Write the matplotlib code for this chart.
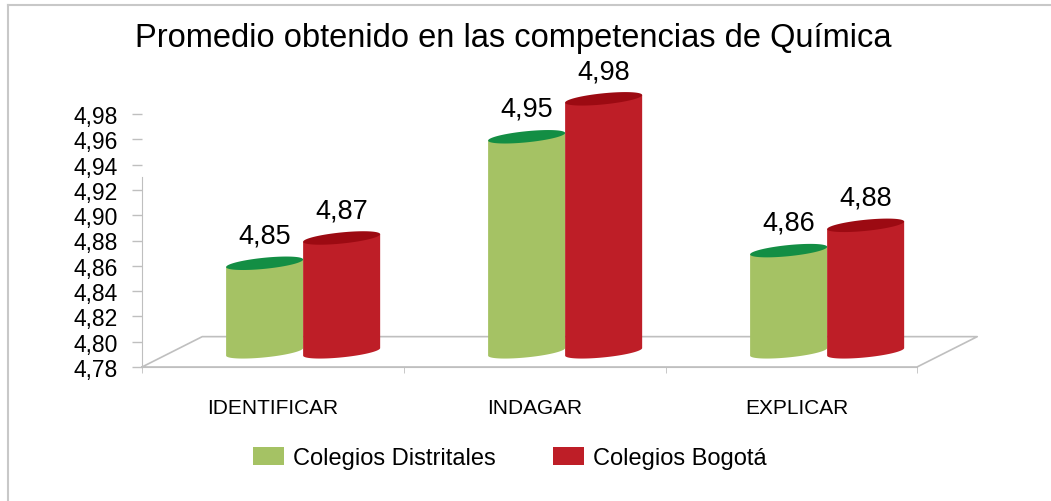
import numpy as np
import matplotlib
matplotlib.use("Agg")
import matplotlib.pyplot as plt
from matplotlib.patches import Polygon, Patch
from matplotlib.lines import Line2D

# data
categories = ["IDENTIFICAR", "INDAGAR", "EXPLICAR"]
series_names = ["Colegios Distritales", "Colegios Bogotá"]
distritales = [4.85, 4.95, 4.86]
bogota = [4.87, 4.98, 4.88]
y_ticks = [4.78, 4.80, 4.82, 4.84, 4.86, 4.88, 4.90, 4.92, 4.94, 4.96, 4.98]

# colours: body, top
green = "#A5C264"
green_top = "#138E44"
red = "#BE1E27"
red_top = "#9C0A12"
grid_gray = "#BFBFBF"

# fake 3d depth (data units) and cylinder shape
base = 4.78
depth_x = 0.115
depth_y = 0.012
bar_w = 0.294
ell_h = 0.0044   # half height of the ellipse
ell_s = 0.0030   # shear, right side higher
wall_top = 4.93
floor_end = 2.458

plt.rcParams['font.family'] = ['Liberation Sans', 'DejaVu Sans']

fig = plt.figure(figsize=(10.51, 5.02), dpi=100)
ax = fig.add_axes([0, 0, 1, 1])
ax.set_xlim(-273 / 262, 778 / 262)
ax.set_ylim(4.78 - 134 / 1265, 4.78 + 368 / 1265)
ax.patch.set_alpha(0)


def cylinder(ax, xc, bottom, top, body, cap, z):
    a = bar_w / 2
    t = np.linspace(np.pi, 2 * np.pi, 60)
    low_x = xc + a * np.cos(t)
    low_y = bottom + ell_h * np.sin(t) + ell_s * np.cos(t)
    xs = np.concatenate([[xc - a], low_x, [xc + a]])
    ys = np.concatenate([[top - ell_s], low_y, [top + ell_s]])
    ax.add_patch(Polygon(np.column_stack([xs, ys]), closed=True,
                         facecolor=body, edgecolor="none", zorder=z))
    t2 = np.linspace(0, 2 * np.pi, 100)
    tx = xc + a * np.cos(t2)
    ty = top + ell_h * np.sin(t2) + ell_s * np.cos(t2)
    ax.add_patch(Polygon(np.column_stack([tx, ty]), closed=True,
                         facecolor=cap, edgecolor="none", zorder=z + 0.5))


# floor of the 3d plot
fx = [-0.5, floor_end, floor_end + 2 * depth_x, -0.5 + 2 * depth_x, -0.5]
fy = [base, base, base + 2 * depth_y, base + 2 * depth_y, base]
ax.plot(fx, fy, color=grid_gray, lw=1.2, zorder=1)

for i in range(len(categories)):
    gc = i + depth_x
    cylinder(ax, gc - bar_w / 2, base + depth_y, distritales[i] + depth_y, green, green_top, 3 + i)
    cylinder(ax, gc + bar_w / 2, base + depth_y, bogota[i] + depth_y, red, red_top, 3.1 + i)
    for xc, v in [(gc - bar_w / 2, distritales[i]), (gc + bar_w / 2, bogota[i])]:
        ax.annotate(f"{v:.2f}".replace(".", ","), (xc, v + depth_y),
                    xytext=(0, 20), textcoords="offset points",
                    ha="center", va="center", fontsize=19.5, zorder=10)

# axes: y axis on the front left corner
for s in ["top", "right"]:
    ax.spines[s].set_visible(False)
ax.spines["left"].set_position(("data", -0.5))
ax.spines["left"].set_bounds(base, wall_top)
ax.spines["left"].set_color(grid_gray)
ax.spines["bottom"].set_position(("data", base))
ax.spines["bottom"].set_bounds(-0.5, floor_end)
ax.spines["bottom"].set_color(grid_gray)
ax.set_yticks(y_ticks)
ax.set_yticklabels([f"{v:.2f}".replace(".", ",") for v in y_ticks])
ax.tick_params(axis="y", direction="out", length=7.2, width=1,
               color=grid_gray, pad=10, labelsize=16.5)
ax.set_xticks(range(len(categories)))
ax.set_xticklabels(categories)
ax.tick_params(axis="x", length=0, pad=22, labelsize=15)
ax.set_xticks([-0.5, 0.5, 1.5, floor_end], minor=True)
ax.tick_params(axis="x", which="minor", direction="out", length=4,
               color=grid_gray)

fig.text(513 / 1051, 1 - 38 / 502, "Promedio obtenido en las competencias de Química",
         ha="center", va="center", fontsize=23.5)

handles = [Patch(facecolor=green, label=series_names[0]),
           Patch(facecolor=red, label=series_names[1])]
fig.legend(handles=handles, loc="center", bbox_to_anchor=(510 / 1051, 1 - 459 / 502),
           ncol=2, frameon=False, prop={"size": 17},
           handlelength=1.3, handleheight=0.8, handletextpad=0.4, columnspacing=2.4)

# outer frame (only top and left are visible in the reference)
fig.add_artist(Line2D([8 / 1051, 8 / 1051], [0, 1 - 5.5 / 502], color="#C8C8C8", lw=1.5))
fig.add_artist(Line2D([8 / 1051, 1], [1 - 5.5 / 502, 1 - 5.5 / 502], color="#C8C8C8", lw=1.5))

fig.savefig("out.png", dpi=100)
